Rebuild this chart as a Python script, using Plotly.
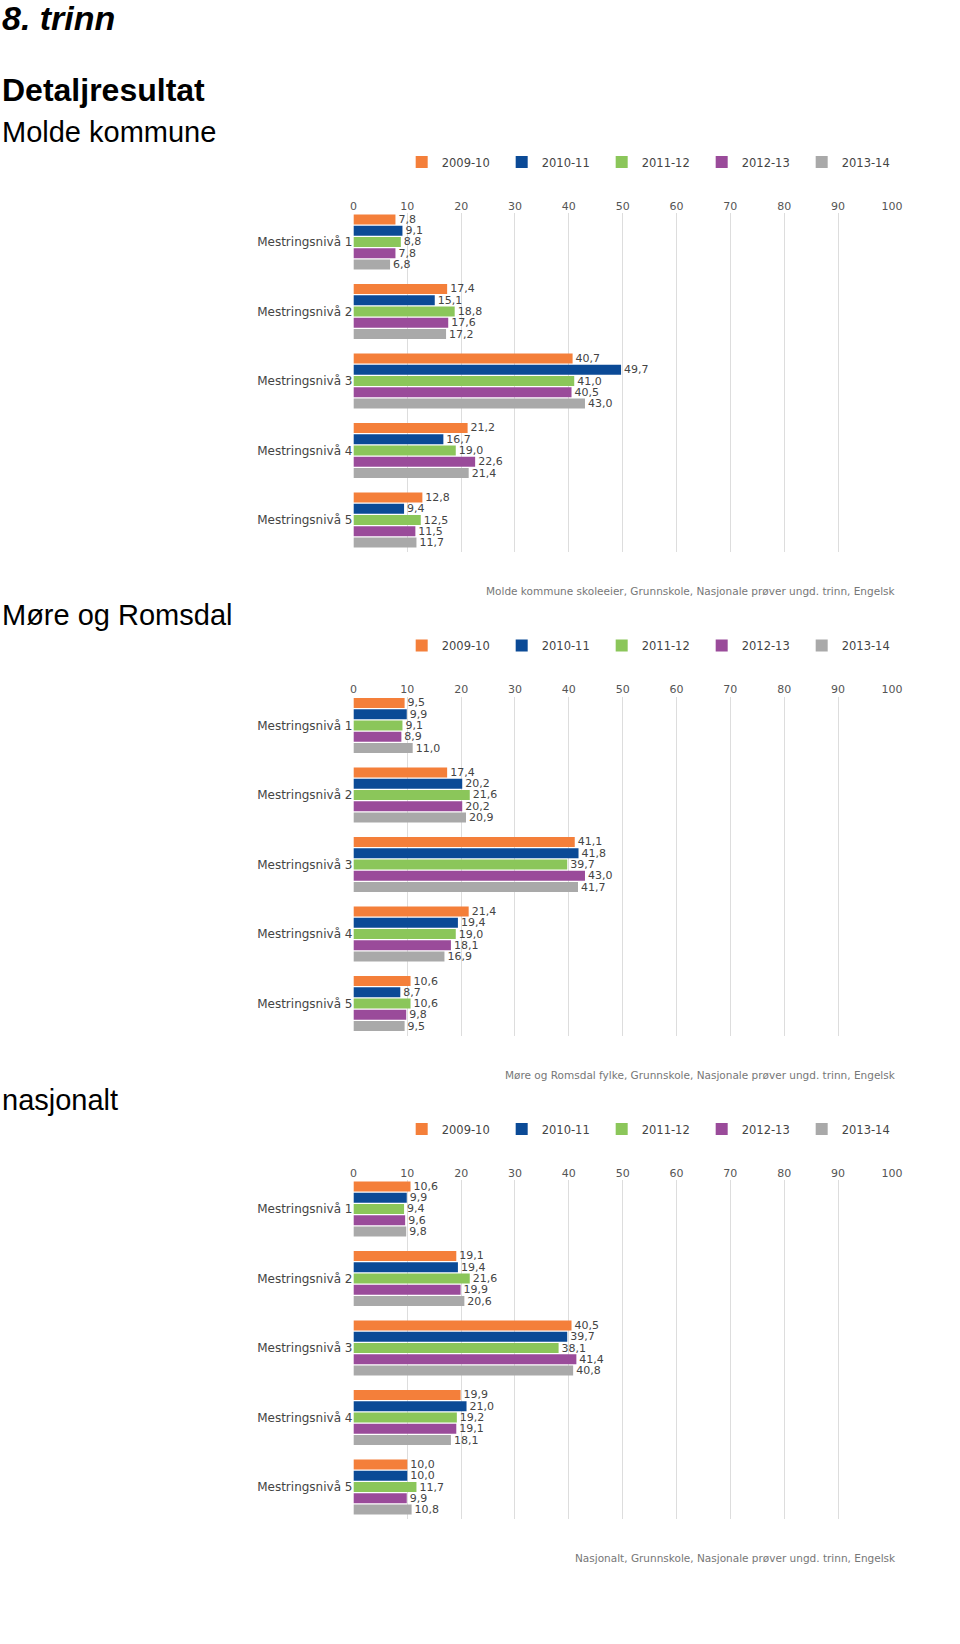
import plotly.graph_objects as go

W, H = 960, 1644

levels = ["Mestringsnivå 1", "Mestringsnivå 2", "Mestringsnivå 3", "Mestringsnivå 4", "Mestringsnivå 5"]
years = ["2009-10", "2010-11", "2011-12", "2012-13", "2013-14"]
colors = ["#F47F3A", "#0B4A96", "#8BC65A", "#9A4B9A", "#A9A9A9"]
x_ticks = [0, 10, 20, 30, 40, 50, 60, 70, 80, 90, 100]

# Molde kommune (values per year across levels 1..5)
molde_2009_10 = [7.8, 17.4, 40.7, 21.2, 12.8]
molde_2010_11 = [9.1, 15.1, 49.7, 16.7, 9.4]
molde_2011_12 = [8.8, 18.8, 41.0, 19.0, 12.5]
molde_2012_13 = [7.8, 17.6, 40.5, 22.6, 11.5]
molde_2013_14 = [6.8, 17.2, 43.0, 21.4, 11.7]

# Møre og Romsdal
mr_2009_10 = [9.5, 17.4, 41.1, 21.4, 10.6]
mr_2010_11 = [9.9, 20.2, 41.8, 19.4, 8.7]
mr_2011_12 = [9.1, 21.6, 39.7, 19.0, 10.6]
mr_2012_13 = [8.9, 20.2, 43.0, 18.1, 9.8]
mr_2013_14 = [11.0, 20.9, 41.7, 16.9, 9.5]

# Nasjonalt
nat_2009_10 = [10.6, 19.1, 40.5, 19.9, 10.0]
nat_2010_11 = [9.9, 19.4, 39.7, 21.0, 10.0]
nat_2011_12 = [9.4, 21.6, 38.1, 19.2, 11.7]
nat_2012_13 = [9.6, 19.9, 41.4, 19.1, 9.9]
nat_2013_14 = [9.8, 20.6, 40.8, 18.1, 10.8]

region_titles = ["Molde kommune", "Møre og Romsdal", "nasjonalt"]
footers = [
    "Molde kommune skoleeier, Grunnskole, Nasjonale prøver ungd. trinn, Engelsk",
    "Møre og Romsdal fylke, Grunnskole, Nasjonale prøver ungd. trinn, Engelsk",
    "Nasjonalt, Grunnskole, Nasjonale prøver ungd. trinn, Engelsk",
]
series = [
    [molde_2009_10, molde_2010_11, molde_2011_12, molde_2012_13, molde_2013_14],
    [mr_2009_10, mr_2010_11, mr_2011_12, mr_2012_13, mr_2013_14],
    [nat_2009_10, nat_2010_11, nat_2011_12, nat_2012_13, nat_2013_14],
]

offsets = [0, 483.5, 967]
title_y = [132, 615, 1100]
FONT = "DejaVu Sans"
TFONT = "Liberation Sans, Arial, sans-serif"


def py(px):
    return 1 - px / H


fig = go.Figure()
annotations = []
layout = dict(
    width=W, height=H,
    margin=dict(l=0, r=0, t=0, b=0),
    paper_bgcolor="white", plot_bgcolor="white",
    barmode="group", bargap=0.19, bargroupgap=0.1,
    separators=", ",
    font=dict(family=FONT, color="#444"),
)

for k, (vals, off) in enumerate(zip(series, offsets)):
    n = k + 1
    xa = "x" if n == 1 else f"x{n}"
    ya = "y" if n == 1 else f"y{n}"
    lg = "legend" if n == 1 else f"legend{n}"
    for yr, v, c in zip(years, vals, colors):
        fig.add_trace(go.Bar(
            x=v, y=levels, orientation="h", name=yr,
            marker=dict(color=c, line=dict(width=0)),
            text=v, texttemplate="%{x:.1f}", textposition="outside",
            constraintext="none", cliponaxis=False,
            textfont=dict(family=FONT, size=11, color="#444"),
            xaxis=xa, yaxis=ya, legend=lg, hoverinfo="skip",
        ))
    layout["xaxis" if n == 1 else f"xaxis{n}"] = dict(
        domain=[355 / W, 902 / W], range=[0, 100], tickvals=x_ticks,
        side="top", showgrid=True, gridcolor="#dddddd", gridwidth=1,
        zeroline=False, showline=False, ticks="",
        tickfont=dict(family=FONT, size=11, color="#555"),
        anchor=ya, fixedrange=True,
    )
    layout["yaxis" if n == 1 else f"yaxis{n}"] = dict(
        domain=[py(552 + off), py(213 + off)], type="category",
        categoryorder="array", categoryarray=levels,
        range=[4.46, -0.417], showgrid=False, zeroline=False, showline=False,
        ticks="", tickfont=dict(family=FONT, size=12, color="#444"),
        anchor=xa, fixedrange=True,
    )
    layout[lg] = dict(
        orientation="h", x=404 / W, xanchor="left", y=py(162 + off), yanchor="middle",
        entrywidth=55, entrywidthmode="pixels", traceorder="normal",
        font=dict(family=FONT, size=11.5, color="#444"), bgcolor="rgba(0,0,0,0)",
    )
    annotations.append(dict(
        text=region_titles[k], xref="paper", yref="paper", x=-4 / W, y=py(title_y[k]),
        xanchor="left", yanchor="middle", showarrow=False,
        font=dict(family=TFONT, size=29, color="#000"),
    ))
    annotations.append(dict(
        text=footers[k], xref="paper", yref="paper", x=908 / W, y=py(591 + off),
        xanchor="right", yanchor="middle", showarrow=False,
        font=dict(family=FONT, size=10.5, color="#777"),
    ))

annotations.append(dict(
    text="<b><i>8. trinn</i></b>", xref="paper", yref="paper", x=-4 / W, y=py(18),
    xanchor="left", yanchor="middle", showarrow=False,
    font=dict(family=TFONT, size=34, color="#000"),
))
annotations.append(dict(
    text="<b>Detaljresultat</b>", xref="paper", yref="paper", x=-4 / W, y=py(90),
    xanchor="left", yanchor="middle", showarrow=False,
    font=dict(family=TFONT, size=32, color="#000"),
))

layout["annotations"] = annotations
fig.update_layout(**layout)

fig.write_html(
    "out.html",
    config={"displayModeBar": False},
    post_script="document.body.style.margin='0';document.body.style.overflow='hidden';",
)
